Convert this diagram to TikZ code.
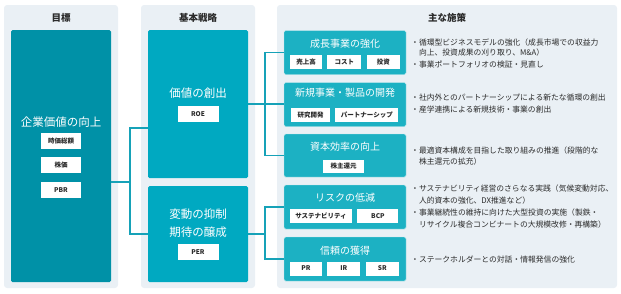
\documentclass[tikz,border=0pt]{standalone}
\usepackage{fontspec}
\setmainfont{Noto Sans CJK JP}
\usetikzlibrary{positioning}

\definecolor{panelbg}{HTML}{EAF0F5}
\definecolor{goalc}{HTML}{0091A7}
\definecolor{stratc}{HTML}{00A9C1}
\definecolor{measc}{HTML}{1CB1C3}
\definecolor{linkc}{HTML}{16A2B8}
\definecolor{inkc}{HTML}{2B2B2B}

\begin{document}
\begin{tikzpicture}[
  x=1pt, y=-1pt,
  panel/.style={rectangle, rounded corners=3pt, fill=panelbg, inner sep=0pt, minimum height=283pt},
  head/.style={font=\fontsize{9.5}{11}\selectfont\bfseries, text=inkc},
  goalbox/.style={rectangle, rounded corners=1.5pt, fill=goalc, inner sep=0pt, minimum width=100pt},
  stratbox/.style={rectangle, rounded corners=1.5pt, fill=stratc, inner sep=0pt, minimum width=100pt},
  measbox/.style={rectangle, rounded corners=1.5pt, fill=measc, draw=white!70!measc, inner sep=0pt, minimum width=122pt, minimum height=44pt},
  capt/.style={text=white, font=\fontsize{11.5}{13}\selectfont},
  rcapt/.style={text=white, font=\fontsize{10}{12}\selectfont},
  tag/.style={rectangle, fill=white, inner sep=0pt, minimum height=16pt, font=\fontsize{6.5}{8}\selectfont\bfseries, text=inkc},
  rtag/.style={tag, minimum height=14pt},
  note/.style={anchor=west, inner sep=0pt, font=\fontsize{7.8}{9}\selectfont, text=inkc},
  link/.style={draw=linkc, line width=1.4pt},
  node distance=8pt and 5pt
]
  \useasboundingbox (0,0) rectangle (621,293);

  % column panels
  \node[panel, minimum width=114pt] (pgoal) at (61,146.5) {};
  \node[panel, minimum width=114pt] (pstrat) at (198,146.5) {};
  \node[panel, minimum width=340pt] (pmeas) at (447,146.5) {};
  \node[head] (hgoal) at (61,18) {目標};
  \node[head] (hstrat) at (198,18) {基本戦略};
  \node[head] (hmeas) at (447,18) {主な施策};

  % goal
  \node[goalbox, minimum height=252pt] (goal) at (61,156) {};
  \node[capt] (goaltxt) at (61,122) {企業価値の向上};
  \node[tag, minimum width=40pt] (mcap) at (61,141) {時価総額};
  \node[tag, minimum width=40pt, below=of mcap] (price) {株価};
  \node[tag, minimum width=40pt, below=of price] (pbr) {PBR};

  % strategies
  \node[stratbox, minimum height=148pt] (up) at (198,104) {};
  \node[capt] (uptxt) at (198,93) {価値の創出};
  \node[tag, minimum width=41pt] (roe) at (198,114) {ROE};
  \node[stratbox, minimum height=96pt] (low) at (198,234) {};
  \node[capt] (lowtxta) at (198,214) {変動の抑制};
  \node[capt] (lowtxtb) at (198,232) {期待の醸成};
  \node[tag, minimum width=41pt] (per) at (198,252) {PER};

  % measures
  \node[measbox] (r1) at (345,52.5) {};
  \node[rcapt] (r1t) at (345,44) {成長事業の強化};
  \node[rtag, minimum width=32pt] (sales) at (306,62) {売上高};
  \node[rtag, minimum width=34pt, right=of sales] (cost) {コスト};
  \node[rtag, minimum width=33pt, right=of cost] (inv) {投資};

  \node[measbox] (r2) at (345,104.5) {};
  \node[rcapt] (r2t) at (345,93) {新規事業・製品の開発};
  \node[rtag, minimum width=39pt] (rnd) at (310.5,115) {研究開発};
  \node[rtag, minimum width=63pt, right=of rnd] (partner) {パートナーシップ};

  \node[measbox, minimum height=43pt] (r3) at (345,155.5) {};
  \node[rcapt] (r3t) at (345,147) {資本効率の向上};
  \node[rtag, minimum width=41pt, minimum height=13pt] (payout) at (343.5,166.5) {株主還元};

  \node[measbox] (r4) at (345,207) {};
  \node[rcapt] (r4t) at (345,198) {リスクの低減};
  \node[rtag, minimum width=62pt] (sust) at (321,216) {サステナビリティ};
  \node[rtag, minimum width=41pt, right=of sust] (bcp) {BCP};

  \node[measbox] (r5) at (345,259) {};
  \node[rcapt] (r5t) at (345,251) {信頼の獲得};
  \node[rtag, minimum width=32pt] (pr) at (306,268.5) {PR};
  \node[rtag, minimum width=33pt, right=of pr] (ir) {IR};
  \node[rtag, minimum width=33pt, right=of ir] (sr) {SR};

  % bullet notes
  \node[note] (n1a) at (411,43) {・循環型ビジネスモデルの強化（成長市場での収益力};
  \node[note] (n1b) at (418.8,53) {向上、投資成果の刈り取り、M\&A）};
  \node[note] (n1c) at (411,65) {・事業ポートフォリオの検証・見直し};
  \node[note] (n2a) at (411,98) {・社内外とのパートナーシップによる新たな循環の創出};
  \node[note] (n2b) at (411,110) {・産学連携による新規技術・事業の創出};
  \node[note] (n3a) at (411,151) {・最適資本構成を目指した取り組みの推進（段階的な};
  \node[note] (n3b) at (418.8,162) {株主還元の拡充）};
  \node[note] (n4a) at (411,189) {・サステナビリティ経営のさらなる実践（気候変動対応、};
  \node[note] (n4b) at (418.8,201) {人的資本の強化、DX推進など）};
  \node[note] (n4c) at (411,213) {・事業継続性の維持に向けた大型投資の実施（製鉄・};
  \node[note] (n4d) at (418.8,225) {リサイクル複合コンビナートの大規模改修・再構築）};
  \node[note] (n5a) at (411,260) {・ステークホルダーとの対話・情報発信の強化};

  % connectors
  \coordinate (j1) at (130,182);
  \coordinate (j2) at (265,0);
  \draw[link] (goal.east |- j1) -- (j1);
  \draw[link] (up.west |- 0,128) -| (j1) |- (low.west);
  \draw[link] (up.east) -- (up.east -| r2.west);
  \draw[link] (r1.west) -- (r1.west -| j2) |- (r3.west);
  \draw[link] (low.east) -- (low.east -| j2);
  \draw[link] (r4.west) -- (r4.west -| j2) |- (r5.west);
\end{tikzpicture}
\end{document}
